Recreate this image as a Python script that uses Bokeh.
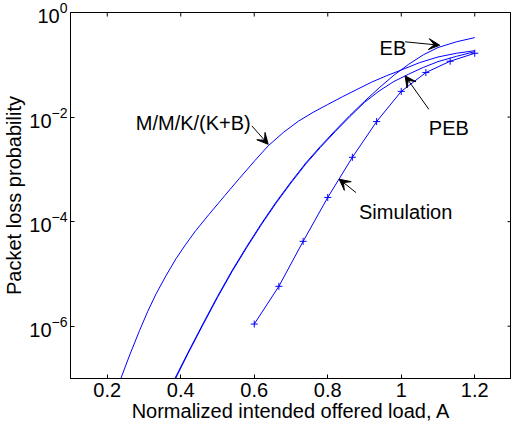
from bokeh.plotting import figure
from bokeh.models import (ColumnDataSource, FixedTicker, Arrow, VeeHead, Range1d, LinearScale)
from bokeh.core.properties import value
from bokeh.embed import file_html
from bokeh.resources import INLINE

# ---- data ----
mmk_x = [0.237, 0.26, 0.288, 0.31, 0.333, 0.36, 0.387, 0.414, 0.441, 0.477, 0.52, 0.56,
         0.602, 0.638, 0.68, 0.72, 0.76, 0.80, 0.84, 0.88, 0.92, 0.96, 1.00, 1.05, 1.10,
         1.15, 1.20]
mmk_y = [1.0e-7, 2.69e-7, 8.3e-7, 1.91e-6, 4.17e-6, 9.3e-6, 1.95e-5, 3.72e-5, 6.76e-5,
         1.38e-4, 3.16e-4, 6.76e-4, 1.48e-3, 2.82e-3, 5.13e-3, 8.32e-3, 1.23e-2, 1.74e-2,
         2.45e-2, 3.39e-2, 4.68e-2, 6.17e-2, 7.94e-2, 0.110, 0.141, 0.166, 0.186]

eb_x = [0.384, 0.42, 0.46, 0.50, 0.54, 0.58, 0.62, 0.66, 0.70, 0.74, 0.78, 0.82, 0.86,
        0.90, 0.94, 0.98, 1.02, 1.06, 1.10, 1.15, 1.20]
eb_y = [1.0e-7, 3.16e-7, 1.10e-6, 3.72e-6, 1.17e-5, 3.39e-5, 9.3e-5, 2.40e-4, 5.75e-4,
        1.32e-3, 2.75e-3, 5.50e-3, 1.07e-2, 2.00e-2, 3.63e-2, 6.31e-2, 0.102, 0.155,
        0.214, 0.275, 0.331]

peb_x = [0.386, 0.42, 0.46, 0.50, 0.54, 0.58, 0.62, 0.66, 0.70, 0.74, 0.78, 0.82, 0.86,
         0.90, 0.94, 0.98, 1.02, 1.06, 1.10, 1.15, 1.20]
peb_y = [1.0e-7, 3.02e-7, 1.05e-6, 3.55e-6, 1.12e-5, 3.24e-5, 8.9e-5, 2.29e-4, 5.50e-4,
         1.26e-3, 2.63e-3, 5.25e-3, 1.02e-2, 1.91e-2, 3.16e-2, 4.79e-2, 6.61e-2, 8.91e-2,
         0.115, 0.145, 0.178]

sim_x = [0.6, 0.667, 0.733, 0.8, 0.867, 0.933, 1.0, 1.067, 1.133, 1.2]
sim_y = [1.1e-6, 5.8e-6, 4.2e-5, 2.9e-4, 1.7e-3, 8.2e-3, 3.1e-2, 7.1e-2, 0.117, 0.166]

x_ticks = [0.2, 0.4, 0.6, 0.8, 1.0, 1.2]
y_ticks = [1e-6, 1e-4, 1e-2, 1.0]

# annotation texts and their anchor/arrow positions (data coordinates)
ann_text = ["M/M/K/(K+B)", "EB", "PEB", "Simulation"]
ann_tx = [0.2776, 0.941, 1.075, 0.885]
ann_ty = [7.85e-3, 0.2138, 6.3e-3, 1.53e-4]
arr_x0 = [0.5934, 1.0105, 1.075, 0.877]
arr_y0 = [6.79e-3, 0.275, 1.41e-2, 3.59e-4]
arr_x1 = [0.638, 1.1047, 1.0105, 0.831]
arr_y1 = [3.01e-3, 0.2366, 6.14e-2, 6.5e-4]

FONT = "Liberation Sans"
BLUE = "#0000ff"
FS = "20px"
FRAME_W, FRAME_H, TICK = 446, 366, 4

p = figure(width=511, height=427, x_range=Range1d(0.1, 1.3), y_range=Range1d(1e-7, 1.0),
           y_axis_type="log", output_backend="svg", toolbar_location=None,
           min_border_left=65, min_border_right=0, min_border_top=12, min_border_bottom=49,
           background_fill_color="white", border_fill_color="white")
p.grid.visible = False
p.outline_line_color = "black"
p.outline_line_width = 1

p.extra_x_ranges = {"px": Range1d(0, FRAME_W)}
p.extra_x_scales = {"px": LinearScale()}
p.extra_y_ranges = {"py": Range1d(0, FRAME_H)}
p.extra_y_scales = {"py": LinearScale()}

p.xaxis.ticker = FixedTicker(ticks=x_ticks)
p.xaxis.axis_label = "Normalized intended offered load, A"
p.yaxis.ticker = FixedTicker(ticks=y_ticks)
p.yaxis.axis_label = "Packet loss probability"

for ax in list(p.xaxis) + list(p.yaxis):
    ax.major_tick_in = TICK
    ax.major_tick_out = 0
    ax.minor_tick_line_color = None
    ax.axis_line_color = "black"
    ax.major_tick_line_color = "black"
    ax.major_label_text_font = FONT
    ax.major_label_text_font_size = FS
    ax.major_label_text_color = "black"
    ax.axis_label_text_font = FONT
    ax.axis_label_text_font_size = FS
    ax.axis_label_text_font_style = "normal"
    ax.axis_label_text_color = "black"

p.xaxis.major_label_standoff = 4
p.xaxis.axis_label_standoff = 0
p.yaxis.major_label_standoff = 3
p.yaxis.axis_label_standoff = 1

# inward ticks on the top and right edges of the box
p.segment(x0=x_ticks, x1=x_ticks, y0=[FRAME_H - TICK] * len(x_ticks), y1=[FRAME_H] * len(x_ticks),
          y_range_name="py", line_color="black", line_width=1)
p.segment(x0=[FRAME_W - TICK] * len(y_ticks), x1=[FRAME_W] * len(y_ticks), y0=y_ticks, y1=y_ticks,
          x_range_name="px", line_color="black", line_width=1)

p.line(mmk_x, mmk_y, line_color=BLUE, line_width=1)
p.line(eb_x, eb_y, line_color=BLUE, line_width=1)
p.line(peb_x, peb_y, line_color=BLUE, line_width=1)
p.line(sim_x, sim_y, line_color=BLUE, line_width=1)
p.scatter(sim_x, sim_y, marker="cross", size=7, line_color=BLUE, line_width=1)

txt = ColumnDataSource(dict(x=ann_tx, y=ann_ty, t=ann_text))
p.text(x="x", y="y", text="t", source=txt, text_font=value(FONT), text_font_size=value(FS),
       text_color="black", text_baseline="alphabetic", text_align="left")

arr = ColumnDataSource(dict(x0=arr_x0, y0=arr_y0, x1=arr_x1, y1=arr_y1))
p.add_layout(Arrow(x_start="x0", y_start="y0", x_end="x1", y_end="y1", source=arr,
                   line_color="black", line_width=1,
                   end=VeeHead(size=11, fill_color="black", line_color="black")))

open("out.html", "w").write(file_html(p, INLINE))
